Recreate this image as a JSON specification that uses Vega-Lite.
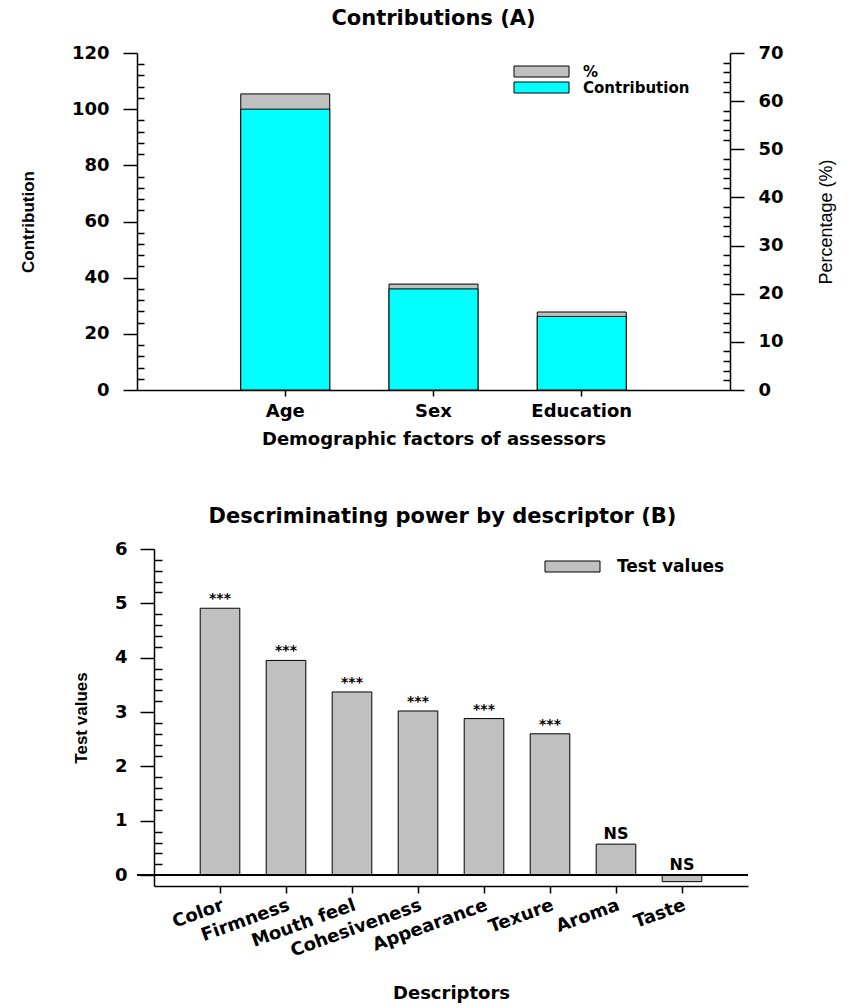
{
  "$schema": "https://vega.github.io/schema/vega-lite/v6.json",
  "background": "white",
  "padding": {"left": 19, "top": 8, "right": 5, "bottom": 5},
  "spacing": 58,
  "resolve": {"scale": {"color": "independent"}, "legend": {"color": "independent"}},
  "config": {
    "view": {"stroke": null},
    "font": "DejaVu Sans",
    "axis": {
      "grid": false,
      "labelFont": "DejaVu Sans",
      "labelFontWeight": "bold",
      "labelFontSize": 18,
      "labelColor": "black",
      "domainColor": "black",
      "domainWidth": 1.5,
      "tickColor": "black",
      "tickWidth": 1.5,
      "titleColor": "black",
      "labelOverlap": false,
      "labelBound": false
    },
    "legend": {
      "orient": "none",
      "symbolType": "M-5,-1L5,-1L5,1L-5,1Z",
      "symbolSize": 121,
      "symbolStrokeColor": "black",
      "symbolStrokeWidth": 1,
      "symbolOpacity": 1,
      "labelFont": "DejaVu Sans",
      "labelFontWeight": "bold",
      "labelColor": "black",
      "padding": 0,
      "rowPadding": 0
    },
    "title": {"font": "DejaVu Sans", "fontWeight": "bold", "fontSize": 21, "color": "black"},
    "bar": {"stroke": "black", "strokeWidth": 1}
  },
  "vconcat": [
    {
      "width": 593,
      "height": 337,
      "title": {"text": "Contributions (A)", "offset": 15},
      "data": {
        "values": [
          {"factor": "Age", "contribution": 100, "percent": 61.5},
          {"factor": "Sex", "contribution": 36, "percent": 22.0},
          {"factor": "Education", "contribution": 26.2, "percent": 16.2}
        ]
      },
      "layer": [
        {
          "mark": {"type": "bar"},
          "encoding": {
            "x": {
              "field": "factor",
              "type": "nominal",
              "sort": null,
              "scale": {"paddingInner": 0.4, "paddingOuter": 0.7},
              "axis": {
                "labelAngle": 0,
                "tickSize": 6,
                "labelPadding": 6,
                "labelFontSize": 18,
                "title": "Demographic factors of assessors",
                "titleFont": "DejaVu Sans",
                "titleFontWeight": "bold",
                "titleFontSize": 18,
                "titlePadding": 10
              }
            },
            "y": {
              "field": "percent",
              "type": "quantitative",
              "scale": {"domain": [0, 70], "nice": false},
              "axis": {
                "orient": "right",
                "values": [0, 2, 4, 6, 8, 10, 12, 14, 16, 18, 20, 22, 24, 26, 28, 30, 32, 34, 36, 38, 40, 42, 44, 46, 48, 50, 52, 54, 56, 58, 60, 62, 64, 66, 68, 70],
                "labelExpr": "datum.value % 10 === 0 ? format(datum.value, 'd') : ''",
                "tickSize": {"condition": {"test": "datum.value % 10 === 0", "value": 14}, "value": -7},
                "labelPadding": 14,
                "title": "Percentage (%)",
                "titleFont": "Liberation Sans",
                "titleFontWeight": "normal",
                "titleFontSize": 18,
                "titleAngle": 270,
                "titleBaseline": "top",
                "titlePadding": 34
              }
            },
            "color": {
              "datum": "%",
              "type": "nominal",
              "scale": {"domain": ["%", "Contribution"], "range": ["#c0c0c0", "#00ffff"]},
              "legend": {"title": null, "legendX": 397, "legendY": 11, "labelOffset": 34, "labelFontSize": 15}
            }
          }
        },
        {
          "mark": {"type": "bar"},
          "encoding": {
            "x": {"field": "factor", "type": "nominal", "sort": null},
            "y": {
              "field": "contribution",
              "type": "quantitative",
              "scale": {"domain": [0, 120], "nice": false},
              "axis": {
                "orient": "left",
                "values": [0, 4, 8, 12, 16, 20, 24, 28, 32, 36, 40, 44, 48, 52, 56, 60, 64, 68, 72, 76, 80, 84, 88, 92, 96, 100, 104, 108, 112, 116, 120],
                "labelExpr": "datum.value % 20 === 0 ? format(datum.value, 'd') : ''",
                "tickSize": {"condition": {"test": "datum.value % 20 === 0", "value": 14}, "value": -7},
                "labelPadding": 14,
                "title": "Contribution",
                "titleFont": "Liberation Sans",
                "titleFontWeight": "bold",
                "titleFontSize": 17,
                "titlePadding": 34
              }
            },
            "color": {"datum": "Contribution", "type": "nominal"}
          }
        }
      ],
      "resolve": {"scale": {"y": "independent"}}
    },
    {
      "width": 611,
      "height": 337,
      "title": {"text": "Descriminating power by descriptor (B)", "offset": 13},
      "data": {
        "values": [
          {"descriptor": "Color", "value": 4.91, "sig": "***"},
          {"descriptor": "Firmness", "value": 3.95, "sig": "***"},
          {"descriptor": "Mouth feel", "value": 3.37, "sig": "***"},
          {"descriptor": "Cohesiveness", "value": 3.02, "sig": "***"},
          {"descriptor": "Appearance", "value": 2.88, "sig": "***"},
          {"descriptor": "Texure", "value": 2.6, "sig": "***"},
          {"descriptor": "Aroma", "value": 0.57, "sig": "NS"},
          {"descriptor": "Taste", "value": -0.12, "sig": "NS"}
        ]
      },
      "layer": [
        {
          "mark": {"type": "bar"},
          "encoding": {
            "x": {
              "field": "descriptor",
              "type": "nominal",
              "sort": null,
              "scale": {"range": [17, 611], "paddingInner": 0.4, "paddingOuter": 0.7},
              "axis": {
                "labelAngle": -20,
                "labelAlign": "right",
                "labelBaseline": "top",
                "tickSize": 7,
                "labelPadding": 3,
                "labelFontSize": 18,
                "title": "Descriptors",
                "titleFont": "DejaVu Sans",
                "titleFontWeight": "bold",
                "titleFontSize": 18,
                "titlePadding": 24
              }
            },
            "y": {
              "field": "value",
              "type": "quantitative",
              "scale": {"domain": [-0.2, 6], "nice": false, "zero": false},
              "axis": {
                "offset": -17,
                "values": [0, 0.2, 0.4, 0.6, 0.8, 1, 1.2, 1.4, 1.6, 1.8, 2, 2.2, 2.4, 2.6, 2.8, 3, 3.2, 3.4, 3.6, 3.8, 4, 4.2, 4.4, 4.6, 4.8, 5, 5.2, 5.4, 5.6, 5.8, 6],
                "labelExpr": "abs(datum.value - round(datum.value)) < 0.01 ? format(datum.value, 'd') : ''",
                "tickSize": {"condition": {"test": "abs(datum.value - round(datum.value)) < 0.01", "value": 14}, "value": -8},
                "labelPadding": 13,
                "title": "Test values",
                "titleFont": "Liberation Sans",
                "titleFontWeight": "bold",
                "titleFontSize": 17,
                "titlePadding": 24
              }
            },
            "color": {
              "datum": "Test values",
              "type": "nominal",
              "scale": {"domain": ["Test values"], "range": ["#c0c0c0"]},
              "legend": {"title": null, "legendX": 427, "legendY": 9, "labelOffset": 36, "labelFontSize": 17}
            }
          }
        },
        {
          "mark": {"type": "rule", "color": "black", "strokeWidth": 1.5},
          "encoding": {
            "y": {
              "datum": 0,
              "type": "quantitative",
              "axis": {
                "offset": -17,
                "values": [0, 0.2, 0.4, 0.6, 0.8, 1, 1.2, 1.4, 1.6, 1.8, 2, 2.2, 2.4, 2.6, 2.8, 3, 3.2, 3.4, 3.6, 3.8, 4, 4.2, 4.4, 4.6, 4.8, 5, 5.2, 5.4, 5.6, 5.8, 6],
                "labelExpr": "abs(datum.value - round(datum.value)) < 0.01 ? format(datum.value, 'd') : ''",
                "tickSize": {"condition": {"test": "abs(datum.value - round(datum.value)) < 0.01", "value": 14}, "value": -8},
                "labelPadding": 13,
                "title": "Test values",
                "titleFont": "Liberation Sans",
                "titleFontWeight": "bold",
                "titleFontSize": 17,
                "titlePadding": 24
              }
            }
          }
        },
        {
          "transform": [{"calculate": "max(datum.value, 0)", "as": "labelPos"}],
          "mark": {"type": "text", "baseline": "alphabetic", "dy": -5, "font": "DejaVu Sans", "fontWeight": "bold", "color": "black"},
          "encoding": {
            "x": {"field": "descriptor", "type": "nominal", "sort": null},
            "y": {
              "field": "labelPos",
              "type": "quantitative",
              "axis": {
                "offset": -17,
                "values": [0, 0.2, 0.4, 0.6, 0.8, 1, 1.2, 1.4, 1.6, 1.8, 2, 2.2, 2.4, 2.6, 2.8, 3, 3.2, 3.4, 3.6, 3.8, 4, 4.2, 4.4, 4.6, 4.8, 5, 5.2, 5.4, 5.6, 5.8, 6],
                "labelExpr": "abs(datum.value - round(datum.value)) < 0.01 ? format(datum.value, 'd') : ''",
                "tickSize": {"condition": {"test": "abs(datum.value - round(datum.value)) < 0.01", "value": 14}, "value": -8},
                "labelPadding": 13,
                "title": "Test values",
                "titleFont": "Liberation Sans",
                "titleFontWeight": "bold",
                "titleFontSize": 17,
                "titlePadding": 24
              }
            },
            "text": {"field": "sig"},
            "size": {"condition": {"test": "datum.sig === 'NS'", "value": 16}, "value": 14}
          }
        }
      ]
    }
  ]
}
